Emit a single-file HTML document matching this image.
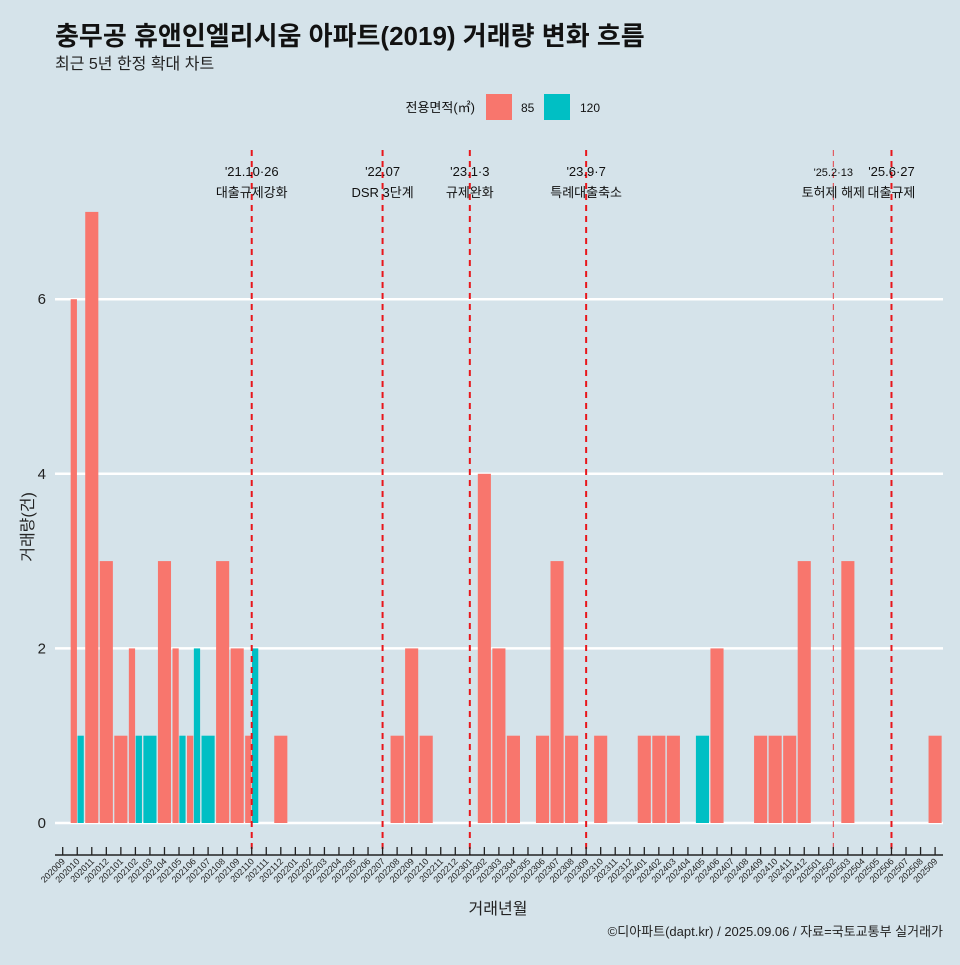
<!DOCTYPE html>
<html><head><meta charset="utf-8"><style>
body{margin:0;background:#d5e3ea;}
svg text{font-family:"Liberation Sans","Noto Sans CJK KR",sans-serif;}
</style></head><body>
<svg id="chart" width="960" height="960" xmlns="http://www.w3.org/2000/svg">
<rect width="960" height="960" fill="#d5e3ea"/>
<text x="55" y="45" font-size="26" font-weight="bold" fill="#111">충무공 휴앤인엘리시움 아파트(2019) 거래량 변화 흐름</text>
<text x="55" y="69" font-size="16" fill="#222">최근 5년 한정 확대 차트</text>
<g>
<text x="475" y="112" font-size="13" text-anchor="end" fill="#111">전용면적(㎡)</text>
<rect x="486" y="94" width="26" height="26" fill="#f8766d"/>
<text x="521" y="112" font-size="12" fill="#111">85</text>
<rect x="544" y="94" width="26" height="26" fill="#00bfc4"/>
<text x="580" y="112" font-size="12" fill="#111">120</text>
</g>
<g id="grid"></g><g id="bars"></g><g id="events"></g><g id="axes"></g>
<text x="498" y="914" font-size="16" text-anchor="middle" fill="#222">거래년월</text>
<text transform="translate(33,527) rotate(-90)" font-size="16" text-anchor="middle" fill="#222">거래량(건)</text>
<text x="943" y="936" font-size="13" text-anchor="end" fill="#222">©디아파트(dapt.kr) / 2025.09.06 / 자료=국토교통부 실거래가</text>
</svg>
<script>
const months=[];for(let y=2020;y<=2025;y++)for(let m=1;m<=12;m++){const k=y*100+m;if(k>=202009&&k<=202509)months.push(String(k));}
const vals85={"202010":6,"202011":7,"202012":3,"202101":1,"202102":2,"202104":3,"202105":2,"202106":1,"202108":3,"202109":2,"202110":1,"202112":1,"202208":1,"202209":2,"202210":1,"202302":4,"202303":2,"202304":1,"202306":1,"202307":3,"202308":1,"202310":1,"202401":1,"202402":1,"202403":1,"202406":2,"202409":1,"202410":1,"202411":1,"202412":3,"202503":3,"202509":1};
const vals120={"202010":1,"202102":1,"202103":1,"202105":1,"202106":2,"202107":1,"202110":2,"202405":1};
const yTicks=[0,2,4,6];
const evMonths=["202110","202207","202301","202309","202502","202506"];
const evLine1=["'21.10·26","'22.07","'23.1·3","'23.9·7","'25.2·13","'25.6·27"];
const evLine2=["대출규제강화","DSR 3단계","규제완화","특례대출축소","토허제 해제","대출규제"];
const NS="http://www.w3.org/2000/svg";
const x0=62.7,step=14.54,bw=13.1;
function X(i){return x0+step*i;}
function Y(v){return 823-87.3*v;}
function el(t,a,p){const e=document.createElementNS(NS,t);for(const k in a)e.setAttribute(k,a[k]);document.getElementById(p).appendChild(e);return e;}
yTicks.forEach(v=>{
 const g=el('line',{x1:55,x2:943,y1:Y(v),y2:Y(v),stroke:'#fff','stroke-width':2.5},'grid');
 
 
 const t=el('text',{x:46,y:Y(v)+5,'font-size':15,'text-anchor':'end',fill:'#222'},'axes');t.textContent=v;
 
 
});
months.forEach((m,i)=>{
 const a=vals85[m]||0,b=vals120[m]||0,cx=X(i);
 if(a&&b){
  const r1=el('rect',{x:cx-bw/2,y:Y(a),width:bw/2-0.3,height:Y(0)-Y(a),fill:'#f8766d'},'bars');
  
  
  const r2=el('rect',{x:cx+0.3,y:Y(b),width:bw/2-0.3,height:Y(0)-Y(b),fill:'#00bfc4'},'bars');
  
  
 }else if(a||b){
  const v=a||b;
  const r=el('rect',{x:cx-bw/2,y:Y(v),width:bw,height:Y(0)-Y(v),fill:a?'#f8766d':'#00bfc4'},'bars');
  
  
 }
 const tk=el('line',{x1:cx,x2:cx,y1:847,y2:855,stroke:'#222','stroke-width':1.3},'axes');
 
 
 const t=el('text',{transform:`translate(${cx+3},${862}) rotate(-45)`,'font-size':9,'text-anchor':'end',fill:'#222'},'axes');t.textContent=m;
 
 
});
const ax=el('line',{x1:55,x2:943,y1:855,y2:855,stroke:'#222','stroke-width':1.5},'axes');


evMonths.forEach((m,k)=>{
 const cx=X(months.indexOf(m));const thin=k===4;
 const l=el('line',{x1:cx,x2:cx,y1:150,y2:855,stroke:'#e8161b','stroke-width':thin?1:2,'stroke-dasharray':'6,5',opacity:thin?0.8:1},'events');
 
 
 const t1=el('text',{x:cx,y:176,'font-size':thin?11:13,'text-anchor':'middle',fill:'#111'},'events');t1.textContent=evLine1[k];
 
 
 const t2=el('text',{x:cx,y:197,'font-size':13,'text-anchor':'middle',fill:'#111'},'events');t2.textContent=evLine2[k];
 
 
});
</script>
</body></html>
